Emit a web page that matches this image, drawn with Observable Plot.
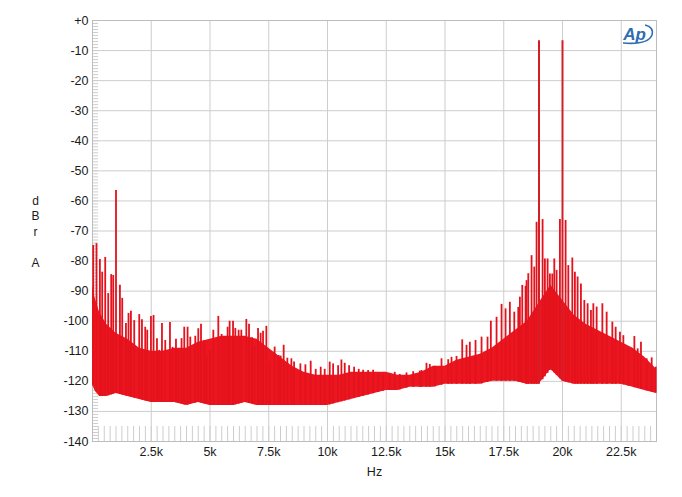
<!DOCTYPE html>
<html>
<head>
<meta charset="utf-8">
<script src="https://cdn.jsdelivr.net/npm/d3@7"></script>
<script src="https://cdn.jsdelivr.net/npm/@observablehq/plot@0.6"></script>
<style>
  html, body { margin: 0; padding: 0; background: #fff; }
  #chart { width: 682px; height: 497px; }
</style>
</head>
<body>
<div id="chart"></div>
<script>
// ---- Data ----
const xTicks = [2500, 5000, 7500, 10000, 12500, 15000, 17500, 20000, 22500];
const xTickLabels = ["2.5k", "5k", "7.5k", "10k", "12.5k", "15k", "17.5k", "20k", "22.5k"];
const yTicks = [0, -10, -20, -30, -40, -50, -60, -70, -80, -90, -100, -110, -120, -130, -140];
const yTickLabels = ["+0", "-10", "-20", "-30", "-40", "-50", "-60", "-70", "-80", "-90", "-100", "-110", "-120", "-130", "-140"];

// dense noise band: frequency (Hz), top of band (dB), bottom of band (dB)
const bandFreq = [0, 100, 300, 600, 1000, 1500, 2000, 2500, 3000, 3500, 4000, 4500, 5000, 5500, 6000, 6500, 7000, 7500, 8000, 8500, 9000, 9500, 10000, 10500, 11000, 11500, 12000, 12500, 13000, 13500, 14000, 14500, 15000, 15500, 16000, 16500, 17000, 17500, 18000, 18500, 19000, 19500, 20000, 20500, 21000, 21500, 22000, 22500, 23000, 23500, 24000];
const bandTop  = [-88, -92, -97, -101, -104, -106, -109, -110, -110, -109, -109, -107, -106, -105, -105, -105, -106, -109, -112, -115, -117, -118, -118, -118, -117, -117, -117, -117, -118, -118, -117, -115, -115, -113, -112, -111, -109, -106, -103, -100, -94, -88, -93, -98, -101, -103, -105, -107, -109, -112, -116];
const bandBot  = [-121, -123, -125, -125, -124, -125, -126, -127, -127, -127, -128, -127, -128, -128, -128, -127, -128, -128, -128, -128, -128, -128, -128, -127, -126, -125, -124, -123, -123, -122, -122, -122, -121, -121, -121, -121, -120, -120, -120, -121, -121, -116, -120, -121, -121, -121, -121, -121, -122, -123, -124];

// individual spectral spikes: frequency (Hz), peak (dB)
const spikeFreq = [30, 170, 315, 413, 541, 669, 796, 882, 1000, 1167, 1265, 1423, 1533, 1635, 1776, 1989, 2104, 2244, 2330, 2487, 2598, 2743, 2841, 2956, 3096, 3296, 3407, 3552, 3663, 3790, 3905, 4046, 4161, 4374, 4502, 4617, 4757, 4855, 5000, 5141, 5354, 5494, 5609, 5750,
  5835, 5980, 6078, 6218, 6333, 6546, 6661, 6789, 6900, 7044, 7155, 7257, 7398, 7538, 7751, 7922, 8007, 8135, 8292, 8463, 8578, 8846, 9059, 9285, 9498, 9711, 9881, 10094, 10239, 10452, 10592, 10733, 10920, 11133, 11329, 11516, 11729, 11942, 12155, 12368, 12649, 12862, 13075, 13361, 13646, 13927,
  14000, 14212, 14353, 14566, 14851, 15136, 15277, 15490, 15733, 15916, 16057, 16299, 16555, 16810, 16951, 17194, 17407, 17577, 17760, 17948, 18118, 18186, 18288, 18429, 18471, 18544, 18684, 18799, 18897,
  19153, 19251, 19366, 19464, 19566, 19651, 19749, 19890, 20132, 20247, 20418, 20528, 20643, 20784, 20929, 21069, 21210,
  21312, 21453, 21696, 21879, 22121, 22262, 22445, 22589, 22803, 23058, 23199, 23339, 23582, 23795, 23966];
const spikeDb = [-74.8, -74.2, -79.5, -83.7, -78.8, -90.8, -84.5, -84.8, -56.5, -88, -92.4, -100.8, -97.4, -96.7, -99.8, -97.8, -99.5, -102, -103, -98.4, -98.1, -105.8, -109.7, -100.8, -106.4, -100.4, -108.7, -106, -109.4, -105.8, -102, -102, -105.3, -105, -102.5, -101, -106.4, -112, -109.7, -103, -98.4, -104.4, -105.3, -102,
  -100, -100, -102.4, -103, -103, -99.4, -101, -105.5, -108.6, -102.4, -104, -103.3, -101.7, -113.6, -108.6, -111.4, -111.6, -108, -112.3, -112.5, -113.6, -114.2, -114.5, -113.3, -116, -115.3, -116, -113.6, -114.2, -114.8, -112.9, -114, -114.8, -115.3, -116, -116.3, -116.4, -116.3, -117.7, -118, -117.5, -117, -117.7, -117.2, -116.8, -116.6,
  -116.4, -114, -114.4, -115, -112.5, -112.8, -112, -111.7, -106.2, -108, -107, -106.4, -105.3, -105.3, -100, -98.7, -94.4, -95.9, -93.7, -97, -95.4, -92, -88.1, -88.4, -86.5, -84.2, -78.2, -82, -67.1,
  -66.2, -79.3, -79.3, -84.3, -84.3, -79.3, -83.1, -66.2, -66.5, -81.5, -79, -83.7, -85.3, -87.6, -93.1, -94.2, -96.4,
  -94.2, -95.3, -94.2, -97, -100.3, -102, -103.7, -104.8, -109.2, -105.1, -109.2, -107, -112.5, -112.2, -115.3];

// test tones
const toneFreq = [19000, 20000];
const toneDb = [-6.7, -6.7];

// ---- Build tables ----
const band = bandFreq.map((f, i) => ({f, top: bandTop[i], bot: bandBot[i]}));
const botAt = d3.scaleLinear().domain(bandFreq).range(bandBot);
const spikes = spikeFreq.map((f, i) => ({f, db: spikeDb[i], base: botAt(f)}));
const tones = toneFreq.map((f, i) => ({f, db: toneDb[i], base: botAt(f)}));

const xLab = new Map(xTicks.map((t, i) => [t, xTickLabels[i]]));
const yLab = new Map(yTicks.map((t, i) => [t, yTickLabels[i]]));

const RED = "#ec1620";
const GRID = "#cdcdcd";
const FONT = "Arial, 'Liberation Sans', sans-serif";

const chart = Plot.plot({
  width: 682,
  height: 497,
  marginLeft: 92,
  marginRight: 26,
  marginTop: 20,
  marginBottom: 56,
  style: {fontFamily: FONT, fontSize: "12px", color: "#1a1a1a", background: "#fff"},
  x: {domain: [0, 24000]},
  y: {domain: [-140, 0]},
  marks: [
    Plot.gridX(xTicks, {stroke: GRID, strokeOpacity: 1}),
    Plot.gridY(yTicks.filter(d => d > -140 && d < 0), {stroke: GRID, strokeOpacity: 1}),
    // minor ticks
    Plot.ruleY(d3.range(-139, 0, 1), {x1: 0, x2: 260, stroke: GRID, strokeOpacity: 1}),
    Plot.ruleX(d3.range(250, 24000, 250), {y1: -140, y2: -135, stroke: GRID, strokeOpacity: 1}),
    Plot.frame({stroke: "#bdbdbd"}),
    // noise band
    Plot.areaY(band, {x: "f", y1: "bot", y2: "top", fill: RED, curve: "linear"}),
    Plot.ruleX(spikes, {x: "f", y1: "base", y2: "db", stroke: "#e3121c", strokeWidth: 1.8}),
    Plot.ruleX(tones, {x: "f", y1: "base", y2: "db", stroke: "#d41e26", strokeWidth: 2}),
    // axes
    Plot.axisX(xTicks, {tickSize: 0, tickPadding: 6, tickFormat: d => xLab.get(d), fontSize: 12.5, label: null}),
    Plot.axisY(yTicks, {tickSize: 0, tickPadding: 4, tickFormat: d => yLab.get(d), fontSize: 12.5, label: null}),
    Plot.text(["Hz"], {frameAnchor: "bottom", dy: 34, fontSize: 12.5, fill: "#1a1a1a"}),
    Plot.text(["d\nB\nr\n\nA"], {frameAnchor: "left", dx: -57, fontSize: 12, lineHeight: 1.3, textAnchor: "middle", fill: "#1a1a1a"}),
    // AP logo
    Plot.text(["Ap"], {frameAnchor: "top-right", dx: -22, dy: 14, lineAnchor: "middle", fontSize: 17, fontWeight: "bold", fontStyle: "italic", fill: "#2e6db2", textAnchor: "middle"})
  ]
});

// logo swoosh
const svg = d3.select(chart);
svg.append("path")
  .attr("d", "M 623 43 Q 648 45 652 35 Q 654 27 645 25")
  .attr("fill", "none")
  .attr("stroke", "#2e6db2")
  .attr("stroke-width", 1.6);

document.getElementById("chart").appendChild(chart);
</script>
</body>
</html>
